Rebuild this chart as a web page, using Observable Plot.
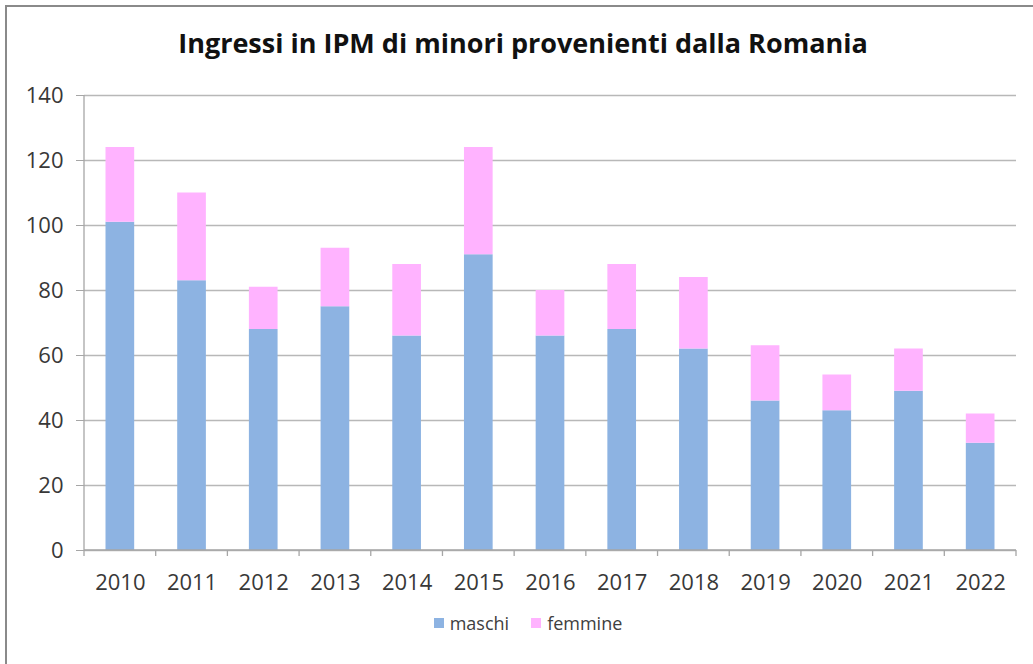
<!DOCTYPE html>
<html>
<head>
<meta charset="utf-8">
<script src="https://cdn.jsdelivr.net/npm/d3@7"></script>
<script src="https://cdn.jsdelivr.net/npm/@observablehq/plot@0.6"></script>
<style>
  html, body { margin: 0; padding: 0; background: #fff; }
  #wrap { position: relative; width: 1033px; height: 664px; overflow: hidden; background: #fff; }
  #frame { position: absolute; left: 5px; top: 5px; right: -10px; bottom: -10px; border-left: 2px solid #8a8a8a; border-top: 2px solid #8a8a8a; }
  #title { position: absolute; left: 0; width: 1046px; top: 24px; text-align: center; font-family: "Open Sans", sans-serif; font-weight: 700; font-size: 27px; color: #111; }
  #chart { position: absolute; left: 0; top: 0; }
  #legend { position: absolute; top: 609px; left: 0; width: 1056px; text-align: center; font-family: "Open Sans", sans-serif; font-size: 18px; color: #404040; }
  .item { display: inline-flex; align-items: center; margin: 0 11px; }
  .sw { width: 10px; height: 10px; margin-right: 6px; display: inline-block; }
</style>
</head>
<body>
<div id="wrap">
  <div id="frame"></div>
  <div id="chart"></div>
  <div id="title">Ingressi in IPM di minori provenienti dalla Romania</div>
  <div id="legend"></div>
</div>
<script>
const years = ["2010","2011","2012","2013","2014","2015","2016","2017","2018","2019","2020","2021","2022"];
const maschi = [101, 83, 68, 75, 66, 91, 66, 68, 62, 46, 43, 49, 33];
const femmine = [23, 27, 13, 18, 22, 33, 14, 20, 22, 17, 11, 13, 9];
const seriesNames = ["maschi", "femmine"];
const seriesColors = ["#8db3e2", "#ffb3ff"];
const yTicks = [0, 20, 40, 60, 80, 100, 120, 140];

const rows = [];
years.forEach((yr, i) => {
  rows.push({year: yr, serie: "maschi", value: maschi[i]});
  rows.push({year: yr, serie: "femmine", value: femmine[i]});
});

function axisLines(index, scales, values, dims) {
  const x = scales.x, y = scales.y;
  const bw = typeof x.bandwidth === "function" ? x.bandwidth() : (scales.scales && scales.scales.x.bandwidth) || 0;
  const step = x(years[1]) - x(years[0]);
  const y0 = y(0);
  const yTop = y(yTicks[yTicks.length - 1]);
  const g = d3.create("svg:g").attr("stroke", "#a6a6a6").attr("fill", "none").attr("stroke-width", 1.3);
  const left = x(years[0]) + bw / 2 - step / 2;
  const right = x(years[years.length - 1]) + bw / 2 + step / 2;
  g.append("line").attr("x1", left).attr("x2", right).attr("y1", y0).attr("y2", y0);
  g.append("line").attr("x1", left).attr("x2", left).attr("y1", yTop).attr("y2", y0);
  const bounds = years.map(v => x(v) + bw / 2 - step / 2).concat([right]);
  bounds.forEach(b => {
    g.append("line").attr("x1", b).attr("x2", b).attr("y1", y0).attr("y2", y0 + 6);
  });
  return g.node();
}

const chart = Plot.plot({
  width: 1033,
  height: 664,
  marginTop: 95,
  marginBottom: 114,
  marginLeft: 84,
  marginRight: 17,
  style: {fontFamily: "'Open Sans', sans-serif", fontSize: "22px", color: "#404040", background: "transparent"},
  x: {domain: years, paddingInner: 0.6, paddingOuter: 0.3, round: false, label: null},
  y: {domain: [0, 140], label: null},
  color: {domain: seriesNames, range: seriesColors},
  marks: [
    Plot.gridY(yTicks, {stroke: "#b8b8b8", strokeOpacity: 1, strokeWidth: 1.3}),
    Plot.barY(rows, {x: "year", y: "value", fill: "serie", order: seriesNames}),
    Plot.axisY(yTicks, {tickSize: 8, tickPadding: 13, stroke: "#a6a6a6", fill: "#383838"}),
    Plot.axisX({tickSize: 0, tickPadding: 24, fill: "#383838"}),
    axisLines
  ]
});
document.getElementById("chart").appendChild(chart);

const legend = document.getElementById("legend");
seriesNames.forEach((n, i) => {
  const it = document.createElement("span");
  it.className = "item";
  const sw = document.createElement("span");
  sw.className = "sw";
  sw.style.background = seriesColors[i];
  it.appendChild(sw);
  it.appendChild(document.createTextNode(n));
  legend.appendChild(it);
});
</script>
</body>
</html>
